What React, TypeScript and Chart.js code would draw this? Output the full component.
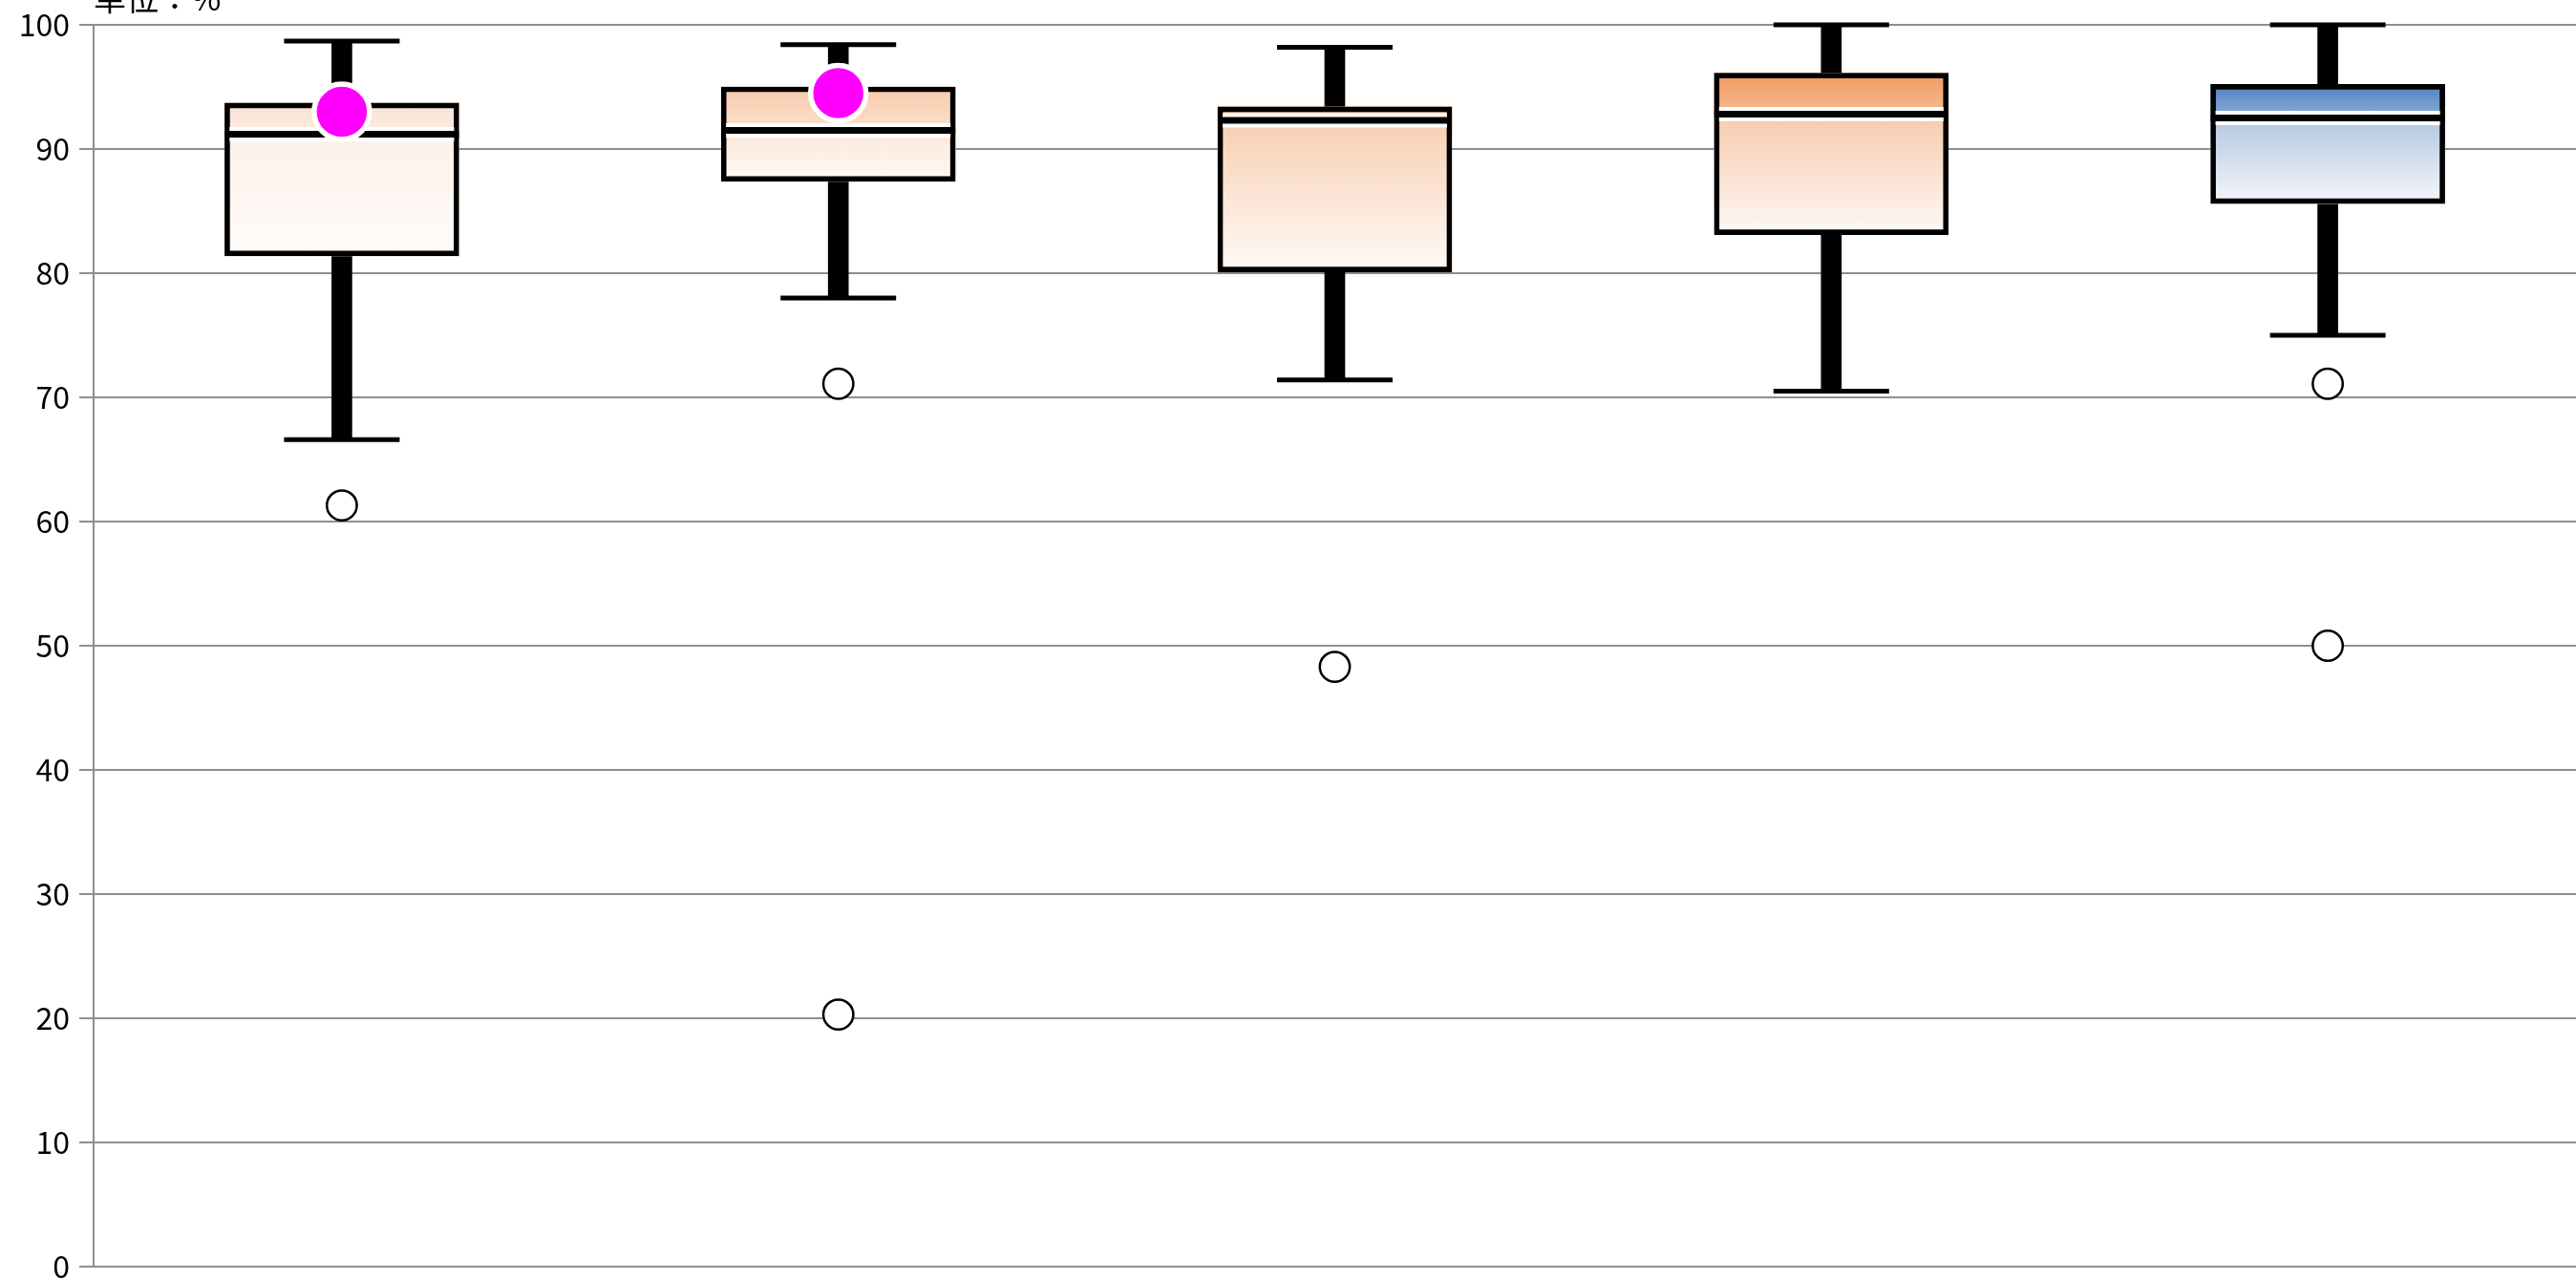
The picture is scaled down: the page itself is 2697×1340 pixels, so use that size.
import { useEffect, useRef } from 'react';
import { Chart, registerables } from 'chart.js';

Chart.register(...registerables);

// ---- data ----
const categories = ['A', 'B', 'C', 'D', 'E'];
const whiskerLow = [66.6, 78.0, 71.4, 70.5, 75.0];
const q1 = [81.4, 87.4, 80.1, 83.1, 85.6];
const median = [91.2, 91.5, 92.3, 92.8, 92.5];
const q3 = [93.7, 95.0, 93.4, 96.1, 95.2];
const whiskerHigh = [98.7, 98.4, 98.2, 100, 100];
const markers: (number | null)[] = [93.0, 94.5, null, null, null];
const outliers: number[][] = [[61.3], [71.1, 20.3], [48.3], [], [71.1, 50.0]];
const yMin = 0;
const yMax = 100;
const yStep = 10;
const unitLabel = '単位：%';

// ---- styles ----
const upperTop = ['#fae2d3', '#f8caab', '#f6b68c', '#f09a5e', '#4f81c0'];
const upperBottom = ['#fcede4', '#fbe0cd', '#f8c6a4', '#f6bb93', '#8eadd8'];
const lowerTop = ['#fdf0e9', '#fce6d8', '#f8cfb2', '#f8caab', '#b3c7e3'];
const lowerBottom = ['#fffcfa', '#fefaf8', '#fffaf7', '#fef9f6', '#f5f7fb'];
const FONT = '"Noto Sans CJK JP", "Noto Sans", sans-serif';

const gradientFill = (tops: string[], bottoms: string[]) => (ctx: any) => {
  const chart = ctx.chart;
  const i = ctx.dataIndex;
  const raw = ctx.raw;
  if (ctx.type !== 'data' || !chart.chartArea || !Array.isArray(raw)) return '#ffffff';
  const y = chart.scales.y;
  const yTop = y.getPixelForValue(Math.max(raw[0], raw[1]));
  const yBot = y.getPixelForValue(Math.min(raw[0], raw[1]));
  const g = chart.ctx.createLinearGradient(0, yTop, 0, yBot);
  g.addColorStop(0, tops[i]);
  g.addColorStop(1, bottoms[i]);
  return g;
};

const unitTitlePlugin = {
  id: 'unitTitle',
  afterDraw(chart: any) {
    const c = chart.ctx;
    c.save();
    c.font = `34px ${FONT}`;
    c.fillStyle = '#000';
    c.textAlign = 'left';
    c.textBaseline = 'alphabetic';
    c.fillText(unitLabel, chart.chartArea.left, chart.chartArea.top - 15);
    c.restore();
  },
};

export default function App() {
  const ref = useRef<HTMLCanvasElement | null>(null);

  useEffect(() => {
    if (!ref.current) return;
    const outlierPoints = outliers.flatMap((vals, i) => vals.map((v) => ({ x: categories[i], y: v })));
    const chart = new Chart(ref.current, {
      type: 'bar',
      data: {
        labels: categories,
        datasets: [
          {
            type: 'bar',
            label: 'stem',
            data: categories.map((_, i) => [whiskerLow[i], whiskerHigh[i]]),
            backgroundColor: '#000',
            borderWidth: 0,
            barThickness: 21,
            grouped: false,
            order: 10,
          } as any,
          {
            type: 'bar',
            label: 'lower',
            data: categories.map((_, i) => [q1[i], median[i]]),
            backgroundColor: gradientFill(lowerTop, lowerBottom),
            borderWidth: 0,
            barThickness: 245,
            grouped: false,
            order: 9,
          } as any,
          {
            type: 'bar',
            label: 'upper',
            data: categories.map((_, i) => [median[i], q3[i]]),
            backgroundColor: gradientFill(upperTop, upperBottom),
            borderWidth: 0,
            barThickness: 245,
            grouped: false,
            order: 8,
          } as any,
          {
            type: 'bar',
            label: 'box',
            data: categories.map((_, i) => [q1[i], q3[i]]),
            backgroundColor: 'rgba(0,0,0,0)',
            borderColor: '#000',
            borderWidth: 5,
            borderSkipped: false,
            barThickness: 245,
            grouped: false,
            order: 7,
          } as any,
          {
            type: 'line',
            label: 'capHigh',
            data: whiskerHigh,
            showLine: false,
            pointStyle: 'line',
            pointRadius: 60.5,
            pointBorderWidth: 5,
            pointBorderColor: '#000',
            clip: false,
            order: 6,
          } as any,
          {
            type: 'line',
            label: 'capLow',
            data: whiskerLow,
            showLine: false,
            pointStyle: 'line',
            pointRadius: 60.5,
            pointBorderWidth: 5,
            pointBorderColor: '#000',
            clip: false,
            order: 6,
          } as any,
          {
            type: 'line',
            label: 'medianHalo',
            data: median,
            showLine: false,
            pointStyle: 'line',
            pointRadius: 117.5,
            pointBorderWidth: 15,
            pointBorderColor: '#ffffff',
            clip: false,
            order: 5,
          } as any,
          {
            type: 'line',
            label: 'median',
            data: median,
            showLine: false,
            pointStyle: 'line',
            pointRadius: 122.5,
            pointBorderWidth: 7,
            pointBorderColor: '#000',
            clip: false,
            order: 4,
          } as any,
          {
            type: 'line',
            label: 'outliers',
            data: outlierPoints,
            showLine: false,
            pointStyle: 'circle',
            pointRadius: 15.7,
            pointBorderWidth: 2.5,
            pointBorderColor: '#000',
            pointBackgroundColor: '#fff',
            clip: false,
            order: 3,
          } as any,
          {
            type: 'line',
            label: 'marker',
            data: markers,
            showLine: false,
            pointStyle: 'circle',
            pointRadius: 29,
            pointBorderWidth: 5.5,
            pointBorderColor: '#ffffff',
            pointBackgroundColor: '#ff00ff',
            clip: false,
            order: 2,
          } as any,
        ],
      },
      options: {
        responsive: true,
        maintainAspectRatio: false,
        animation: false,
        devicePixelRatio: 1,
        layout: { autoPadding: false, padding: { top: 26, bottom: 14, left: 0, right: 0 } },
        plugins: {
          legend: { display: false },
          tooltip: { enabled: false },
          title: { display: false },
        },
        scales: {
          x: {
            type: 'category',
            display: false,
            offset: true,
          },
          y: {
            min: yMin,
            max: yMax,
            afterFit: (scale: any) => {
              scale.width = 98;
              scale.paddingTop = 0;
              scale.paddingBottom = 0;
            },
            ticks: {
              stepSize: yStep,
              padding: 10,
              color: '#000',
              font: { family: FONT, size: 32 },
            },
            grid: {
              color: '#8e8e8e',
              lineWidth: 2,
              drawTicks: true,
              tickLength: 15,
            },
            border: { display: true, color: '#8e8e8e', width: 2 },
          },
        },
      } as any,
      plugins: [unitTitlePlugin],
    });
    return () => chart.destroy();
  }, []);

  return (
    <div style={{ position: 'fixed', left: 0, top: 0, width: '2697px', height: '1340px', background: '#fff' }}>
      <canvas ref={ref} />
    </div>
  );
}
